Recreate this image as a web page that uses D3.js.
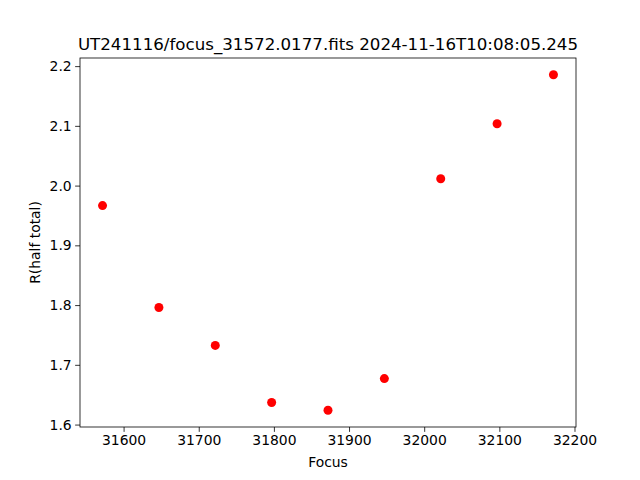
<!DOCTYPE html>
<html><head><meta charset="utf-8">
<script src="https://cdn.jsdelivr.net/npm/d3@7"></script>
<style>body{margin:0;background:#fff}svg{display:block}text{font-family:"DejaVu Sans",sans-serif;fill:#000}</style>
</head><body>
<script>
const title = "UT241116/focus_31572.0177.fits 2024-11-16T10:08:05.245";
const focus = [31572, 31647, 31722, 31797, 31872, 31947, 32022, 32097, 32172];
const rHalf = [1.9665, 1.796, 1.7325, 1.637, 1.624, 1.677, 2.0115, 2.1035, 2.1855];
const xTicks = [31600, 31700, 31800, 31900, 32000, 32100, 32200];
const yTicks = [1.6, 1.7, 1.8, 1.9, 2.0, 2.1, 2.2];

const W = 640, H = 480, L = 80, R = 576, T = 58, B = 427;
const svg = d3.select("body").append("svg").attr("width", W).attr("height", H);
svg.append("rect").attr("width", W).attr("height", H).attr("fill", "#fff");

const xmin = d3.min(focus), xmax = d3.max(focus), xm = (xmax - xmin) * 0.05;
const ymin = d3.min(rHalf), ymax = d3.max(rHalf), ym = (ymax - ymin) * 0.05;
const x = d3.scaleLinear().domain([xmin - xm, xmax + xm]).range([L, R]);
const y = d3.scaleLinear().domain([ymin - ym, ymax + ym]).range([B, T]);

const xAxis = svg.append("g").attr("transform", `translate(0,${B})`)
  .call(d3.axisBottom(x).tickValues(xTicks).tickFormat(d3.format("d")).tickSize(4.86).tickPadding(3.5));
const yAxis = svg.append("g").attr("transform", `translate(${L},0)`)
  .call(d3.axisLeft(y).tickValues(yTicks).tickFormat(d3.format(".1f")).tickSize(4.86).tickPadding(3.5));
[xAxis, yAxis].forEach(a => {
  a.select(".domain").remove();
  a.selectAll("line").attr("stroke", "#000").attr("stroke-width", 0.8);
  a.selectAll("text").attr("font-size", "13.9px").attr("font-family", "DejaVu Sans").attr("fill", "#000");
});

svg.append("rect").attr("x", L).attr("y", T).attr("width", R - L).attr("height", B - T)
  .attr("fill", "none").attr("stroke", "#000").attr("stroke-width", 0.8);

svg.append("g").selectAll("circle").data(focus).join("circle")
  .attr("cx", d => x(d)).attr("cy", (d, i) => y(rHalf[i])).attr("r", 4.5).attr("fill", "#ff0000");

svg.append("text").attr("x", (L + R) / 2).attr("y", 50).attr("text-anchor", "middle")
  .attr("font-size", "16.67px").text(title);
svg.append("text").attr("x", (L + R) / 2).attr("y", 467).attr("text-anchor", "middle")
  .attr("font-size", "13.9px").text("Focus");
svg.append("text").attr("transform", `translate(40,${(T + B) / 2}) rotate(-90)`).attr("text-anchor", "middle")
  .attr("font-size", "13.9px").text("R(half total)");
</script>
</body></html>
